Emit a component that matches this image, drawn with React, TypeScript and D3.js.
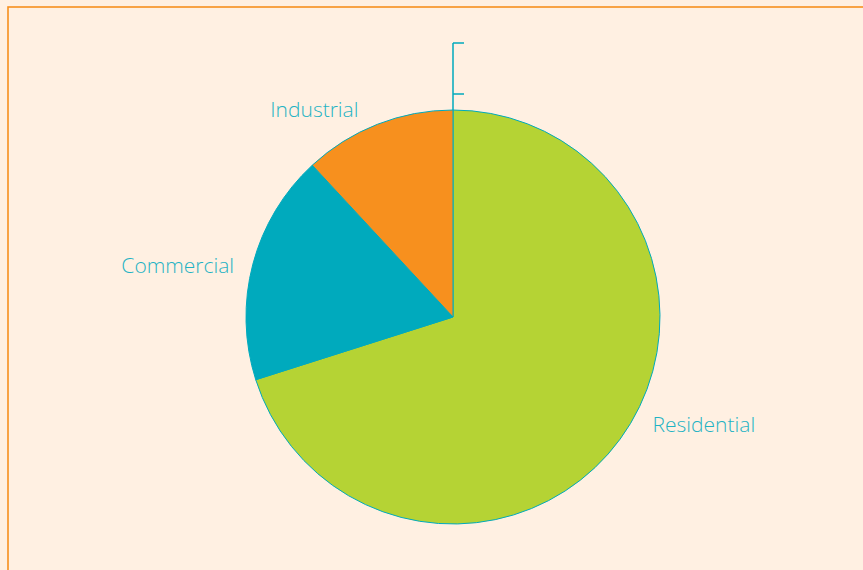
import React from "react";
import * as d3 from "d3";

const categories = ["Residential", "Commercial", "Industrial"];
const values = [70.1, 18.0, 11.9];
const colors = ["#b5d334", "#00aabd", "#f7901e"];
// label nudges relative to outer centroid (layout only)
const labelNudge: [number, number, string][] = [
  [26, -20, "start"],
  [-11, 3, "end"],
  [-16, -8, "end"],
];

const W = 863;
const H = 570;
const cx = 453;
const cy = 317;
const r = 207;
const teal = "#00aabd";
const textColor = "#1fb3c4";

export default function App() {
  const pie = d3.pie<number>().sort(null).value((d) => d)(values);
  const arc = d3.arc<d3.PieArcDatum<number>>().innerRadius(0).outerRadius(r);
  const labelArc = d3.arc<d3.PieArcDatum<number>>().innerRadius(215).outerRadius(215);
  const bracketTop = cy - r - 67;
  const bracketMid = cy - r - 16;
  return (
    <svg width={W} height={H} style={{ position: "absolute", left: 0, top: 0 }}>
      <rect x={0} y={0} width={W} height={H} fill="#fff0e2" />
      <rect x={8} y={7} width={W + 20} height={H + 20} fill="#fff0e2" stroke="#f7901e" strokeWidth={1.6} />
      <g transform={`translate(${cx},${cy})`}>
        {pie.map((p, i) => (
          <path key={categories[i]} d={arc(p) || ""} fill={colors[i]} stroke={teal} strokeWidth={1} />
        ))}
        {pie.map((p, i) => {
          const [lx, ly] = labelArc.centroid(p);
          const [dx, dy, anchor] = labelNudge[i];
          return (
            <text
              key={"l" + i}
              x={lx + dx}
              y={ly + dy}
              textAnchor={anchor}
              dominantBaseline="central"
              fontFamily="'Open Sans', sans-serif"
              fontWeight={300}
              fontSize={21}
              fill={textColor}
            >
              {categories[i]}
            </text>
          );
        })}
      </g>
      <line x1={cx} x2={cx} y1={bracketTop} y2={cy - r} stroke={teal} strokeWidth={1.5} />
      <line x1={cx} x2={cx + 11} y1={bracketTop} y2={bracketTop} stroke={teal} strokeWidth={1.5} />
      <line x1={cx} x2={cx + 11} y1={bracketMid} y2={bracketMid} stroke={teal} strokeWidth={1.5} />
    </svg>
  );
}
